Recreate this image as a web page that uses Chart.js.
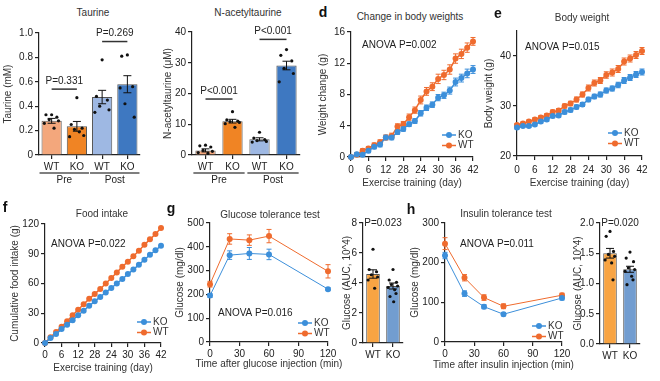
<!DOCTYPE html>
<html>
<head>
<meta charset="utf-8">
<script src="https://cdn.jsdelivr.net/npm/chart.js@4.4.1/dist/chart.umd.min.js"></script>
<style>
  body { margin: 0; background: #fff; width: 660px; height: 381px; overflow: hidden; position: relative;
         font-family: "Liberation Sans", Arial, sans-serif; }
  canvas { position: absolute; }
  .t { position: absolute; font-size: 10px; color: #333; transform: translate(-50%, -50%); white-space: nowrap; }
  .p { position: absolute; font-size: 14px; font-weight: bold; color: #111; transform: translate(-50%, -50%); }
</style>
</head>
<body>
<script>
// ---- data ----
const groups = ['WT', 'KO', 'WT', 'KO'];
const phases = ['Pre', 'Post'];

const taurineMean = [0.28, 0.235, 0.475, 0.58];
const taurineSem = [0.02, 0.04, 0.055, 0.07];
const taurineDots = [
  [0.33, 0.33, 0.31, 0.29, 0.28, 0.26, 0.22],
  [0.47, 0.25, 0.22, 0.21, 0.16, 0.15, 0.19],
  [0.78, 0.48, 0.45, 0.40, 0.37, 0.35],
  [0.82, 0.81, 0.56, 0.42, 0.31, 0.55]
];

const natMean = [1.5, 11.0, 5.1, 29.1];
const natSem = [0.5, 0.6, 0.5, 1.4];
const natDots = [
  [3.2, 3.0, 2.6, 1.5, 1.2, 0.8, 0.5],
  [14.1, 11.4, 11.0, 10.9, 10.6, 10.2, 9.0],
  [7.4, 5.5, 5.0, 4.7, 4.4, 4.2],
  [34.3, 32.4, 30.6, 28.2, 26.5, 23.8]
];

const days = [0, 2, 4, 6, 8, 10, 12, 14, 16, 18, 20, 22, 24, 26, 28, 30, 32, 34, 36, 38, 40, 42];
const dayTickLabels = ['0', '6', '12', '28', '24', '30', '36', '42'];

const changeKO = [0, 0.35, 0.3, 0.8, 1.3, 1.6, 2.5, 2.5, 3.2, 3.6, 4.2, 4.6, 5.6, 6.3, 6.7, 7.6, 7.9, 8.5, 9.6, 10.1, 10.7, 11.2];
const changeWT = [0, 0.3, 0.8, 1.1, 1.5, 1.9, 2.5, 2.7, 3.9, 4.2, 5.1, 6.0, 7.3, 8.4, 9.0, 10.0, 10.5, 11.2, 12.6, 13.2, 14.0, 14.8];
const changeKOErr = [0.1, 0.2, 0.2, 0.25, 0.25, 0.3, 0.3, 0.3, 0.3, 0.3, 0.3, 0.3, 0.35, 0.35, 0.35, 0.4, 0.4, 0.45, 0.5, 0.5, 0.55, 0.5];
const changeWTErr = [0.1, 0.2, 0.25, 0.25, 0.3, 0.3, 0.3, 0.35, 0.35, 0.35, 0.4, 0.4, 0.5, 0.5, 0.5, 0.6, 0.6, 0.6, 0.6, 0.6, 0.6, 0.5];

const weightKO = [25.7, 26.0, 26.0, 26.3, 26.9, 27.3, 28.0, 28.1, 28.8, 29.2, 29.8, 30.3, 31.3, 31.9, 32.3, 33.1, 33.5, 34.2, 35.1, 35.7, 36.3, 36.8];
const weightWT = [26.2, 26.5, 26.9, 27.3, 27.7, 28.1, 28.8, 29.1, 30.0, 30.5, 31.3, 32.3, 33.6, 34.6, 35.1, 36.2, 36.7, 37.4, 38.9, 39.5, 40.2, 41.0];
const weightKOErr = [0.3, 0.3, 0.3, 0.3, 0.3, 0.35, 0.35, 0.35, 0.4, 0.4, 0.4, 0.4, 0.45, 0.45, 0.5, 0.5, 0.5, 0.55, 0.6, 0.6, 0.6, 0.6];
const weightWTErr = [0.3, 0.3, 0.3, 0.35, 0.35, 0.35, 0.4, 0.4, 0.4, 0.45, 0.5, 0.5, 0.6, 0.6, 0.6, 0.65, 0.7, 0.7, 0.7, 0.7, 0.7, 0.7];

const foodKO = [0, 5, 9, 14, 18.5, 23, 28, 32.5, 37.5, 42, 46.5, 51, 55.5, 60, 64.5, 69.5, 74, 79, 84, 89, 93.5, 98];
const foodWT = [0, 5.8, 11, 16.5, 22, 28, 33.5, 39, 44.5, 49.5, 54.5, 60, 65.5, 71, 77, 82, 87.5, 93, 99, 104.5, 110, 116];

const minutes = [0, 20, 40, 60, 120];
const gttKO = [195, 365, 372, 368, 222];
const gttKOErr = [8, 18, 25, 22, 6];
const gttWT = [243, 433, 428, 445, 297];
const gttWTErr = [12, 22, 22, 28, 28];

const ittKO = [218, 122, 89, 70, 111];
const ittKOErr = [8, 7, 5, 4, 5];
const ittWT = [248, 162, 112, 90, 118];
const ittWTErr = [15, 8, 7, 6, 5];

const aucLabels = ['WT', 'KO'];
const gttAuc = [4.6, 3.8];
const gttAucSem = [0.28, 0.2];
const gttAucDots = [
  [6.25, 4.9, 4.75, 4.55, 4.4, 4.2, 3.65],
  [4.9, 4.2, 4.05, 3.9, 3.8, 3.7, 3.55, 3.3, 3.1, 2.75]
];
const ittAuc = [1.5, 1.235];
const ittAucSem = [0.08, 0.05];
const ittAucDots = [
  [1.86, 1.78, 1.53, 1.48, 1.45, 1.39, 1.34, 1.06],
  [1.52, 1.42, 1.36, 1.26, 1.23, 1.2, 1.12, 1.06, 0.98]
];

// ---- styles ----
const BLUE = '#3C8FDA', ORANGE = '#EF6B2E';
const preWT = '#F3A77C', preKO = '#F08424', postWT = '#9EB8E3', postKO = '#3E78C1';
const aucWT = '#F8A443', aucKO = '#729DD0';
const FONT = '"Liberation Sans", Arial, sans-serif';

Chart.defaults.font.family = FONT;
Chart.defaults.font.size = 10;
Chart.defaults.color = '#222';

const JIT = [0, -0.28, 0.26, -0.12, 0.34, -0.36, 0.12, 0.22, -0.22, 0.05];

function drawErrors(chart) {
  const ctx = chart.ctx, ys = chart.scales.y;
  chart.data.datasets.forEach((ds, i) => {
    if (!ds.err) return;
    const meta = chart.getDatasetMeta(i);
    ctx.save();
    ctx.strokeStyle = ds.errColor;
    ctx.lineWidth = 1;
    meta.data.forEach((el, j) => {
      const raw = ds.data[j];
      const v = typeof raw === 'object' ? raw.y : raw;
      const e = ds.err[j];
      const top = ys.getPixelForValue(v + e), bot = ys.getPixelForValue(v - e);
      const cap = ds.capW;
      ctx.beginPath();
      ctx.moveTo(el.x, top); ctx.lineTo(el.x, bot);
      ctx.moveTo(el.x - cap, top); ctx.lineTo(el.x + cap, top);
      ctx.moveTo(el.x - cap, bot); ctx.lineTo(el.x + cap, bot);
      ctx.stroke();
    });
    ctx.restore();
  });
}

function drawDots(chart) {
  const ctx = chart.ctx, ys = chart.scales.y;
  chart.data.datasets.forEach((ds, i) => {
    if (!ds.dots) return;
    const meta = chart.getDatasetMeta(i);
    ctx.save();
    ctx.fillStyle = '#111';
    meta.data.forEach((el, j) => {
      ds.dots[j].forEach((v, k) => {
        ctx.beginPath();
        ctx.arc(el.x + JIT[k % JIT.length] * el.width, ys.getPixelForValue(v), 1.6, 0, Math.PI * 2);
        ctx.fill();
      });
    });
    ctx.restore();
  });
}

const extras = {
  id: 'extras',
  beforeDatasetsDraw(chart) {
    if (chart.config.type === 'line') drawErrors(chart);
  },
  afterDatasetsDraw(chart, args, o) {
    const ctx = chart.ctx, a = chart.chartArea, ys = chart.scales.y;
    if (chart.config.type === 'bar') { drawErrors(chart); drawDots(chart); }
    const bars = chart.getDatasetMeta(0).data;
    ctx.save();
    ctx.font = '10px ' + FONT;
    ctx.fillStyle = '#222';
    ctx.textBaseline = 'middle';
    if (o.note) {
      ctx.textAlign = 'left';
      ctx.fillText(o.note.text, a.left + o.note.dx, a.top + o.note.dy);
    }
    if (o.xTitle) {
      // drawn here so the text is not squeezed to the axis width
      ctx.textAlign = 'center'; ctx.fillStyle = '#333';
      ctx.fillText(o.xTitle.text, (a.left + a.right) / 2, a.bottom + o.xTitle.dy);
      ctx.fillStyle = '#222';
    }
    (o.pvals || []).forEach(p => {
      const x0 = bars[p.from].x, x1 = bars[p.to].x, y = ys.getPixelForValue(p.y);
      ctx.textAlign = 'center';
      if (p.line) {
        ctx.strokeStyle = '#333'; ctx.lineWidth = 1.5;
        ctx.beginPath(); ctx.moveTo(x0, y); ctx.lineTo(x1, y); ctx.stroke();
        ctx.fillText(p.text, (x0 + x1) / 2, y - 8);
      } else {
        ctx.fillText(p.text, (x0 + x1) / 2, y);
      }
    });
    (o.groups || []).forEach(g => {
      const b0 = bars[g.from], b1 = bars[g.to];
      const x0 = b0.x - b0.width / 2 - 2, x1 = b1.x + b1.width / 2 + 2;
      ctx.strokeStyle = '#555'; ctx.lineWidth = 1.5;
      ctx.beginPath(); ctx.moveTo(x0, a.bottom + 18); ctx.lineTo(x1, a.bottom + 18); ctx.stroke();
      ctx.textAlign = 'center';
      ctx.fillText(g.label, (x0 + x1) / 2, a.bottom + 25.5);
    });
    if (o.legend) {
      chart.data.datasets.forEach((ds, i) => {
        const x = a.right + o.legend.dx, y = a.bottom + o.legend.dy + i * 10.5;
        ctx.strokeStyle = ds.borderColor; ctx.fillStyle = ds.borderColor; ctx.lineWidth = 1.5;
        ctx.beginPath(); ctx.moveTo(x, y); ctx.lineTo(x + 14, y); ctx.stroke();
        ctx.beginPath(); ctx.arc(x + 7, y, 3, 0, Math.PI * 2); ctx.fill();
        ctx.fillStyle = '#333'; ctx.textAlign = 'left';
        ctx.fillText(ds.label, x + 16, y);
      });
    }
    ctx.restore();
  }
};
Chart.register(extras);

// ---- helpers ----
// area = plot rectangle on the page; m = room around it (l: y-axis box, pl: extra left padding)
function makeCanvas(area, m) {
  const c = document.createElement('canvas');
  const pl = m.pl || 0;
  c.width = area.r - area.l + pl + m.l + m.r;
  c.height = area.b - area.t + m.t + m.b;
  c.style.left = (area.l - m.l - pl) + 'px';
  c.style.top = (area.t - m.t) + 'px';
  document.body.appendChild(c);
  return c;
}

const axisLine = { color: '#222', width: 1.2 };
const tickMarks = { drawOnChartArea: false, drawTicks: true, tickLength: 4, color: '#222', lineWidth: 1.2 };

function yAxis(min, max, step, title, m, fmt) {
  const ticks = { stepSize: step, padding: 2, includeBounds: false, color: '#222' };
  if (fmt) ticks.callback = fmt;
  return {
    min, max, border: axisLine, grid: tickMarks, ticks,
    title: { display: true, text: title, padding: 0, color: '#333' },
    afterFit: s => { s.width = m.l; }
  };
}

function xLinear(max, step, labels, title, m, pad) {
  const ticks = { stepSize: step, padding: pad, maxRotation: 0, autoSkip: false, color: '#222' };
  if (labels) ticks.callback = (v, i) => labels[i];
  return {
    type: 'linear', min: 0, max, border: axisLine, grid: tickMarks, ticks,
    title: { display: !!title, text: title || '', padding: 0, color: '#333' },
    afterFit: s => { s.height = m.b; }
  };
}

function xCategory(m) {
  return {
    type: 'category', offset: true, border: axisLine,
    grid: Object.assign({ offset: false }, tickMarks),
    ticks: { padding: 2, maxRotation: 0, autoSkip: false, color: '#222' },
    afterFit: s => { s.height = m.b; }
  };
}

function baseOptions(m, scales, ex) {
  return {
    responsive: false, animation: false, events: [],
    layout: { padding: { left: m.pl || 0, top: m.t, right: m.r, bottom: 0 } },
    plugins: { legend: { display: false }, tooltip: { enabled: false }, extras: ex },
    scales
  };
}

function lineSet(label, xs, ys, err, color, width) {
  return {
    label, data: xs.map((x, i) => ({ x, y: ys[i] })), err, errColor: color, capW: 2.5,
    borderColor: color, backgroundColor: color, borderWidth: width,
    pointRadius: 3, pointHoverRadius: 3, pointBorderWidth: 0, clip: false, tension: 0
  };
}

function barSet(values, sem, dots, colors, pct) {
  return {
    data: values, err: sem, errColor: '#111', capW: 4, dots,
    backgroundColor: colors, borderColor: '#555', borderWidth: 1,
    barPercentage: pct, categoryPercentage: 1
  };
}

// ---- Taurine ----
{
  const area = { l: 39, t: 33, r: 140, b: 155 }, m = { l: 37, t: 8, r: 10, b: 35 };
  new Chart(makeCanvas(area, m), {
    type: 'bar',
    data: { labels: groups, datasets: [barSet(taurineMean, taurineSem, taurineDots, [preWT, preKO, postWT, postKO], 0.8)] },
    options: baseOptions(m, { x: xCategory(m), y: yAxis(0, 1, 0.2, 'Taurine (mM)', m) }, {
      pvals: [{ text: 'P=0.331', from: 0, to: 1, y: 0.54, line: true }, { text: 'P=0.269', from: 2, to: 3, y: 0.93, line: true }],
      groups: [{ label: phases[0], from: 0, to: 1 }, { label: phases[1], from: 2, to: 3 }]
    })
  });
}

// ---- N-acetyltaurine ----
{
  const area = { l: 192, t: 32, r: 300, b: 155 }, m = { l: 30, t: 8, r: 10, b: 35 };
  new Chart(makeCanvas(area, m), {
    type: 'bar',
    data: { labels: groups, datasets: [barSet(natMean, natSem, natDots, [preWT, preKO, postWT, postKO], 0.75)] },
    options: baseOptions(m, { x: xCategory(m), y: yAxis(0, 40, 10, 'N-acetyltaurine (μM)', m) }, {
      pvals: [{ text: 'P<0.001', from: 0, to: 1, y: 18.2, line: true }, { text: 'P<0.001', from: 2, to: 3, y: 37.6, line: true }],
      groups: [{ label: phases[0], from: 0, to: 1 }, { label: phases[1], from: 2, to: 3 }]
    })
  });
}

// ---- d: change in body weights ----
{
  const area = { l: 351, t: 32, r: 473, b: 157 }, m = { l: 34, t: 8, r: 12, b: 32 };
  new Chart(makeCanvas(area, m), {
    type: 'line',
    data: { datasets: [
      lineSet('KO', days, changeKO, changeKOErr, BLUE, 1.5),
      lineSet('WT', days, changeWT, changeWTErr, ORANGE, 1.5)
    ] },
    options: baseOptions(m, {
      x: xLinear(42, 6, dayTickLabels, 'Exercise training (day)', m, 3),
      y: yAxis(0, 16, 4, 'Weight change (g)', m)
    }, { note: { text: 'ANOVA P=0.002', dx: 11, dy: 13 }, legend: { dx: -31, dy: -22 } })
  });
}

// ---- e: body weight ----
{
  const area = { l: 517, t: 31, r: 642, b: 156 }, m = { l: 34, t: 8, r: 12, b: 33 };
  new Chart(makeCanvas(area, m), {
    type: 'line',
    data: { datasets: [
      lineSet('KO', days, weightKO, weightKOErr, BLUE, 1.5),
      lineSet('WT', days, weightWT, weightWTErr, ORANGE, 1.5)
    ] },
    options: baseOptions(m, {
      x: xLinear(42, 6, dayTickLabels, 'Exercise training (day)', m, 4),
      y: yAxis(20, 45, 10, 'Body weight (g)', m)
    }, { note: { text: 'ANOVA P=0.015', dx: 8, dy: 16 }, legend: { dx: -34, dy: -23 } })
  });
}

// ---- f: food intake ----
{
  const area = { l: 45, t: 224, r: 161, b: 343 }, m = { l: 36, t: 8, r: 12, b: 31 };
  new Chart(makeCanvas(area, m), {
    type: 'line',
    data: { datasets: [
      lineSet('KO', days, foodKO, null, BLUE, 1.5),
      lineSet('WT', days, foodWT, null, ORANGE, 1.5)
    ] },
    options: baseOptions(m, {
      x: xLinear(42, 6, dayTickLabels, 'Exercise training (day)', m, 2),
      y: yAxis(0, 120, 30, 'Cumulative food intake (g)', m)
    }, { note: { text: 'ANOVA P=0.022', dx: 6, dy: 20 }, legend: { dx: -24, dy: -21 } })
  });
}

// ---- g: glucose tolerance test ----
{
  const area = { l: 210, t: 223, r: 328, b: 342 }, m = { l: 36, t: 8, r: 22, b: 30 };
  new Chart(makeCanvas(area, m), {
    type: 'line',
    data: { datasets: [
      lineSet('KO', minutes, gttKO, gttKOErr, BLUE, 1),
      lineSet('WT', minutes, gttWT, gttWTErr, ORANGE, 1)
    ] },
    options: baseOptions(m, {
      x: xLinear(120, 30, null, null, m, 2),
      y: yAxis(0, 500, 100, 'Glucose (mg/dl)', m)
    }, {
      note: { text: 'ANOVA P=0.016', dx: 8, dy: 90 }, legend: { dx: -30, dy: -19 },
      xTitle: { text: 'Time after glucose injection (min)', dy: 22 }
    })
  });
}

// ---- g: AUC ----
{
  const area = { l: 363, t: 223, r: 403, b: 343 }, m = { l: 22, t: 8, r: 8, b: 20 };
  new Chart(makeCanvas(area, m), {
    type: 'bar',
    data: { labels: aucLabels, datasets: [barSet(gttAuc, gttAucSem, gttAucDots, [aucWT, aucKO], 0.68)] },
    options: baseOptions(m, { x: xCategory(m), y: yAxis(0, 8, 2, 'Glucose (AUC, 10^4)', m) }, {
      pvals: [{ text: 'P=0.023', from: 0, to: 1, y: 8, line: false }]
    })
  });
}

// ---- h: insulin tolerance test ----
{
  const area = { l: 445, t: 223, r: 562, b: 342 }, m = { l: 36, t: 8, r: 22, b: 30 };
  new Chart(makeCanvas(area, m), {
    type: 'line',
    data: { datasets: [
      lineSet('KO', minutes, ittKO, ittKOErr, BLUE, 1),
      lineSet('WT', minutes, ittWT, ittWTErr, ORANGE, 1)
    ] },
    options: baseOptions(m, {
      x: xLinear(120, 30, null, null, m, 2),
      y: yAxis(0, 300, 100, 'Glucose (mg/dl)', m)
    }, {
      note: { text: 'ANOVA P=0.011', dx: 15, dy: 21 }, legend: { dx: -30, dy: -16 },
      xTitle: { text: 'Time after insulin injection (min)', dy: 23.5 }
    })
  });
}

// ---- h: AUC ----
{
  const area = { l: 600, t: 223, r: 640, b: 344 }, m = { l: 28, t: 8, r: 8, b: 20 };
  new Chart(makeCanvas(area, m), {
    type: 'bar',
    data: { labels: aucLabels, datasets: [barSet(ittAuc, ittAucSem, ittAucDots, [aucWT, aucKO], 0.68)] },
    options: baseOptions(m, { x: xCategory(m), y: yAxis(0, 2, 0.5, 'Glucose (AUC, 10^4)', m, v => v.toFixed(1)) }, {
      pvals: [{ text: 'P=0.020', from: 0, to: 1, y: 2, line: false }]
    })
  });
}

// ---- titles and panel letters ----
const titles = [
  ['Taurine', 93, 12], ['N-acetyltaurine', 248, 12], ['Change in body weights', 410, 16], ['Body weight', 582, 17],
  ['Food intake', 102, 213], ['Glucose tolerance test', 270, 214], ['Insulin tolerance test', 506, 213]
];
titles.forEach(([text, x, y]) => {
  const d = document.createElement('div');
  d.className = 't'; d.textContent = text; d.style.left = x + 'px'; d.style.top = y + 'px';
  document.body.appendChild(d);
});
const letters = [['d', 323, 12], ['e', 498, 13], ['f', 5, 207], ['g', 171, 208], ['h', 411, 209]];
letters.forEach(([text, x, y]) => {
  const d = document.createElement('div');
  d.className = 'p'; d.textContent = text; d.style.left = x + 'px'; d.style.top = y + 'px';
  document.body.appendChild(d);
});
</script>
</body>
</html>
